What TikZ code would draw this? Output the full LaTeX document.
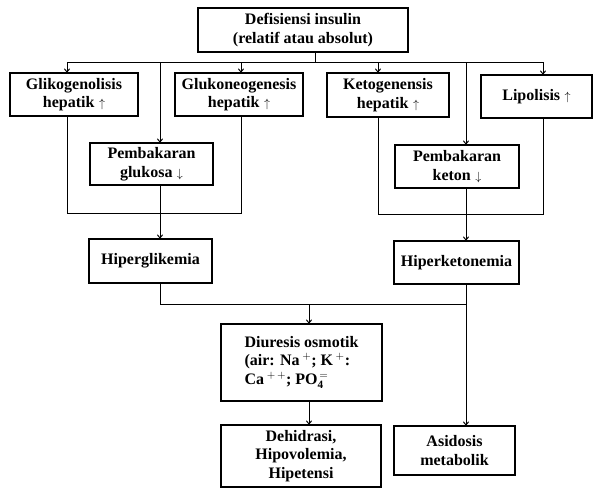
\documentclass[tikz,border=0pt]{standalone}
\usepackage{fontspec}
\setmainfont{Liberation Serif}
\usetikzlibrary{arrows.meta}
\newcommand{\naik}{\;{\fontsize{12}{12}\selectfont$\uparrow$}}
\newcommand{\turun}{\;{\fontsize{12}{12}\selectfont$\downarrow$}}
\begin{document}
\begin{tikzpicture}  % ------ Defisiensi insulin -------------------
      [x=1pt,y=-1pt, line width=1pt, >={To[length=4pt,width=6pt]},
       kotak/.style={draw, line width=1.1pt, align=center, inner sep=0pt,
                     font=\bfseries\fontsize{16}{18.5}\selectfont}]
    \useasboundingbox (0,0) rectangle (598,490);

    \node[kotak, minimum width=210, minimum height=44] (def)   at (303,30)    {Defisiensi insulin\\(relatif atau absolut)};
    \node[kotak, minimum width=128, minimum height=43] (gliko) at (74,94.5)   {Glikogenolisis\\hepatik\naik};
    \node[kotak, minimum width=128, minimum height=43] (gluko) at (239,94.5)  {Glukoneogenesis\\hepatik\naik};
    \node[kotak, minimum width=122, minimum height=44] (keto)  at (388,95)    {Ketogenensis\\hepatik\naik};
    \node[kotak, minimum width=111, minimum height=43] (lipo)  at (536.5,96.5) {Lipolisis\naik};
    \node[kotak, minimum width=123, minimum height=42] (pglu)  at (151.5,164) {Pembakaran\\glukosa\turun};
    \node[kotak, minimum width=124, minimum height=43] (pket)  at (457,166.5) {Pembakaran\\keton\turun};
    \node[kotak, minimum width=123, minimum height=44] (hglik) at (150.5,261) {Hiperglikemia};
    \node[kotak, minimum width=125, minimum height=43] (hket)  at (456.5,262.5) {Hiperketonemia};
    \node[kotak, minimum width=161, minimum height=77, align=left] (diur) at (301.5,362.5)
         {Diuresis osmotik\\(air: Na\,$^{+}$; K\,$^{+}$:\\Ca\,$^{+\,+}$; PO$_{\mathbf{4}}^{\,=}$};
    \node[kotak, minimum width=160, minimum height=62] (dehi)  at (301,456)   {Dehidrasi,\\Hipovolemia,\\Hipetensi};
    \node[kotak, minimum width=121, minimum height=49] (asid)  at (454.5,450.5) {Asidosis\\metabolik};

    \coordinate (b0) at (315,62);   % jalur atas
    \coordinate (b1) at (67,62);  \coordinate (b2) at (160,62);
    \coordinate (b3) at (241,62); \coordinate (b4) at (378,62);
    \coordinate (b5) at (466,62); \coordinate (b6) at (543,62);
    \coordinate (k1) at (67,213);  \coordinate (k2) at (378,214);
    \coordinate (m1) at (160,304); \coordinate (m2) at (309,304);

    \draw (def.south -| b0) -- (b0) ;
    \draw (b1) -- (b6) ;
    \foreach \b/\n in {b1/gliko, b2/pglu, b3/gluko, b4/keto, b5/pket, b6/lipo}
      \draw[->] (\b) -- (\b |- \n.north) ;

    \draw (gliko.south -| k1) -- (k1) -| (gluko.south -| b3) ;   % kiri
    \draw (keto.south -| k2) -- (k2) -| (lipo.south -| b6) ;     % kanan
    \draw[->] (pglu.south -| b2) -- (hglik.north -| b2) ;
    \draw[->] (pket.south -| b5) -- (hket.north -| b5) ;

    \draw (hglik.south -| m1) -- (m1) -- (m1 -| b5) ;
    \draw[->] (hket.south -| b5) -- (asid.north -| b5) ;
    \draw[->] (m2) -- (diur.north -| m2) ;
    \draw[->] (diur.south -| m2) -- (dehi.north -| m2) ;
\end{tikzpicture}
\end{document}
